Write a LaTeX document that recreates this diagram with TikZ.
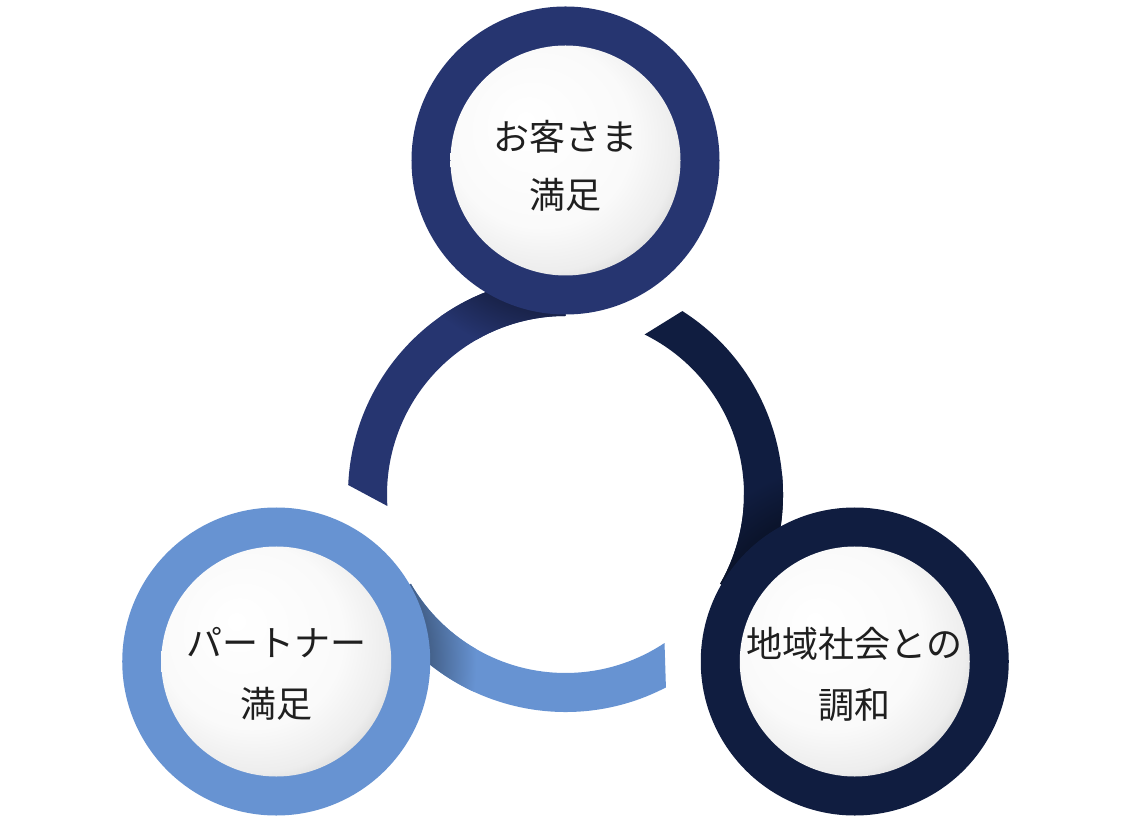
\documentclass[tikz,border=0pt]{standalone}
\usepackage{fontspec}
\newfontfamily\jpfont{Noto Sans CJK JP}
\usetikzlibrary{calc}
\usepackage{xcolor}

\definecolor{topblue}{HTML}{263570}
\definecolor{deepnavy}{HTML}{101D40}
\definecolor{skyblue}{HTML}{6793D2}
\colorlet{ringcol}{topblue}

% shadow cast by a hub on the ring piece below it
\pgfdeclareradialshading[ringcol]{ringshade}{\pgfpointorigin}{color(0bp)=(ringcol!60!black); color(19bp)=(ringcol!65!black); color(25bp)=(ringcol); color(50bp)=(ringcol)}
% white ball, light from the upper left
\pgfdeclareradialshading{ballshade}{\pgfpoint{-9bp}{9bp}}{color(0bp)=(white); color(20bp)=(white!98!black); color(28bp)=(white!93!black); color(33bp)=(white!82!black); color(36bp)=(white!68!black); color(38bp)=(white!57!black); color(50bp)=(white!57!black)}

\tikzset{
  hub/.style={circle, minimum size=61.6mm, inner sep=0pt, outer sep=0pt},
  ball/.style={circle, minimum size=46mm, inner sep=0pt, outer sep=0pt, shading=ballshade},
  caption/.style={font=\jpfont\fontsize{20.5}{34.7}\selectfont, align=center, text=black!88}
}

\begin{document}
\begin{tikzpicture}[x=0.2mm, y=0.2mm]
  \useasboundingbox (-565.5,-329.5) rectangle (569.5,494.5);

  % ring pieces, each one leaves its hub and runs counterclockwise
  \foreach \ang/\col in {90/topblue, -30/deepnavy, 210/skyblue} {
    \colorlet{ringcol}{\col}
    \begin{scope}
      \clip (\ang:217.5) arc[start angle=\ang, end angle=\ang+87.5, radius=217.5]
        -- (\ang+93.7:178.5) arc[start angle=\ang+93.7, end angle=\ang, radius=178.5] -- cycle;
      \fill[ringcol] (0,0) circle (230);
      \shade[shading=ringshade] (\ang:334) circle (200);
    \end{scope}
  }

  % hubs
  \node[hub, fill=topblue] (care) at (90:334) {};
  \node[hub, fill=deepnavy] (region) at (-30:334) {};
  \node[hub, fill=skyblue] (partner) at (210:334) {};

  \node[ball] (careball) at (care) {};
  \node[ball] (regionball) at (region) {};
  \node[ball] (partnerball) at (partner) {};

  % labels
  \node[caption, font=\jpfont\fontsize{20.5}{33}\selectfont] (caretext) at ([yshift=-1.1mm]careball) {お客さま\\満足};
  \node[caption] (regiontext) at ([yshift=-2.5mm]regionball) {地域社会との\\調和};
  \node[caption] (partnertext) at ([yshift=-2.5mm]partnerball) {パートナー\\満足};
\end{tikzpicture}
\end{document}
